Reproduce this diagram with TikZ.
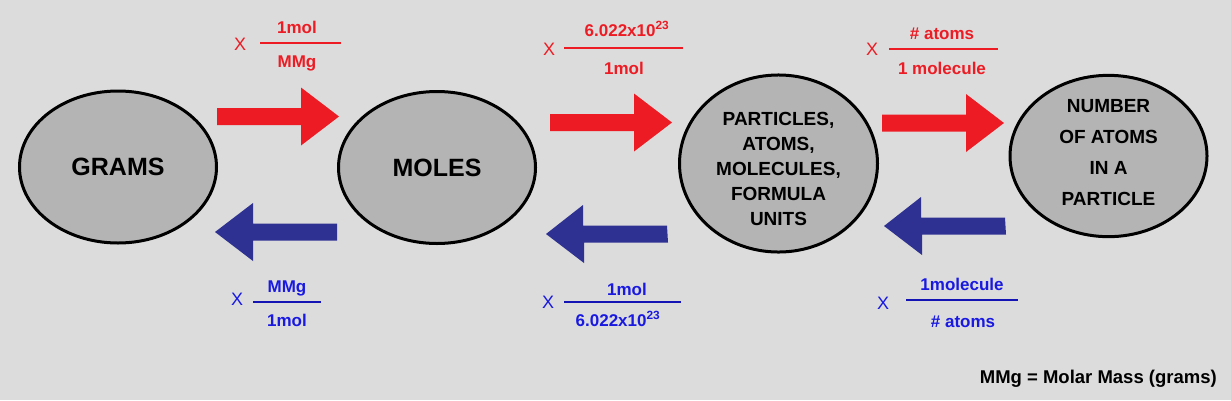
\documentclass[tikz,border=0pt]{standalone}
\usepackage{fontspec}
\setmainfont{Liberation Sans}
\usetikzlibrary{shapes.geometric}
\definecolor{bg}{RGB}{220,220,220}
\definecolor{ellgray}{RGB}{180,180,180}
\definecolor{arrowred}{RGB}{237,28,36}
\definecolor{arrowblue}{RGB}{46,49,146}
\definecolor{labelred}{RGB}{237,28,36}
\definecolor{labelblue}{RGB}{25,25,225}
\tikzset{
  ellbox/.style={ellipse, draw=black, line width=3pt, fill=ellgray, inner sep=0pt,
    minimum width=197pt, minimum height=152pt, align=center},
  bigtxt/.style={font=\fontsize{25}{30}\selectfont\bfseries},
  smalltxt/.style={font=\fontsize{19}{25}\selectfont\bfseries},
  redarrow/.style={fill=arrowred},
  bluearrow/.style={fill=arrowblue},
  lbl/.style={inner sep=0pt, font=\fontsize{17}{20}\selectfont\bfseries, text height=12pt, text depth=0pt},
  xsym/.style={inner sep=0pt, font=\fontsize{18}{20}\selectfont, text height=12.5pt, text depth=0pt},
  redlbl/.style={lbl, text=labelred},
  bluelbl/.style={lbl, text=labelblue},
  redx/.style={xsym, text=labelred},
  bluex/.style={xsym, text=labelblue},
  redbar/.style={draw=labelred, line width=2.5pt},
  bluebar/.style={draw=labelblue!80!black, line width=2.5pt},
  note/.style={inner sep=0pt, anchor=east, font=\fontsize{18.5}{22}\selectfont\bfseries, text height=13pt, text depth=0pt}
}
\begin{document}
\begin{tikzpicture}[x=1pt,y=-1pt]
\fill[bg] (0,0) rectangle (1231,400);
\useasboundingbox (0,0) rectangle (1231,400);

% ellipses
\node[ellbox, bigtxt] (grams) at (118,167) {GRAMS};
\node[ellbox, bigtxt] (moles) at (437,167.5) {MOLES};
\node[ellbox, smalltxt, minimum width=198pt] (parts) at (778.5,163.5)
  {\rule{0pt}{25pt}PARTICLES,\\ATOMS,\\MOLECULES,\\FORMULA\\UNITS};
\node[ellbox, font=\fontsize{19}{31}\selectfont\bfseries] (natoms) at (1108.5,156)
  {NUMBER\\OF ATOMS\\IN A\\PARTICLE\rule[-8pt]{0pt}{8pt}};

% red arrows (tail centre -> tip)
\coordinate (r1t) at (217,116.5); \coordinate (r1h) at (339,116.5);
\coordinate (r2t) at (550,122.5); \coordinate (r2h) at (672,122.5);
\coordinate (r3t) at (882,123);   \coordinate (r3h) at (1004,123);
\foreach \t/\h in {r1t/r1h, r2t/r2h, r3t/r3h}{
  \fill[redarrow] (\t) ++(0,-8.5) -- ++(84,0) -- ++(0,-20.5) -- (\h)
    -- ++(-38,29) -- ++(0,-20.5) -- ++(-84,0) -- cycle;
}
% blue arrows
\coordinate (b1t) at (337,232);   \coordinate (b1h) at (215,232);
\coordinate (b2t) at (667,234);   \coordinate (b2h) at (546,234);
\coordinate (b3t) at (1005,226);  \coordinate (b3h) at (884,226);
\foreach \t/\h in {b1t/b1h, b2t/b2h, b3t/b3h}{
  \fill[bluearrow] (\t) ++(0,-8.5) -- ++(-84,0) -- ++(0,-20.5) -- (\h)
    -- ++(38,29) -- ++(0,-20.5) -- ++(84,0) -- cycle;
}

% red labels
\node[redx] (rx1) at (240,44) {X};
\coordinate (rf1a) at (260,43); \coordinate (rf1b) at (341,43);
\draw[redbar] (rf1a) -- (rf1b);
\node[redlbl] (rn1) at (297,27) {1mol};
\node[redlbl] (rd1) at (297,61) {MMg};

\node[redx] (rx2) at (549,49) {X};
\coordinate (rf2a) at (564,48); \coordinate (rf2b) at (683,48);
\draw[redbar] (rf2a) -- (rf2b);
\node[redlbl] (rn2) at (627,30) {6.022x10\textsuperscript{23}};
\node[redlbl] (rd2) at (624,68) {1mol};

\node[redx] (rx3) at (872,49) {X};
\coordinate (rf3a) at (889,49); \coordinate (rf3b) at (998,49);
\draw[redbar] (rf3a) -- (rf3b);
\node[redlbl] (rn3) at (942,33) {\# atoms};
\node[redlbl] (rd3) at (942,68) {1 molecule};

% blue labels
\node[bluex] (bx1) at (237,299) {X};
\coordinate (bf1a) at (253,302); \coordinate (bf1b) at (321,302);
\draw[bluebar] (bf1a) -- (bf1b);
\node[bluelbl] (bn1) at (287,286) {MMg};
\node[bluelbl] (bd1) at (287,320) {1mol};

\node[bluex] (bx2) at (548,302) {X};
\coordinate (bf2a) at (564,302); \coordinate (bf2b) at (681,302);
\draw[bluebar] (bf2a) -- (bf2b);
\node[bluelbl] (bn2) at (627,289) {1mol};
\node[bluelbl] (bd2) at (618,320) {6.022x10\textsuperscript{23}};

\node[bluex] (bx3) at (883,303) {X};
\coordinate (bf3a) at (906,300); \coordinate (bf3b) at (1018,300);
\draw[bluebar] (bf3a) -- (bf3b);
\node[bluelbl] (bn3) at (962,284) {1molecule};
\node[bluelbl] (bd3) at (963,321) {\# atoms};

% footnote
\node[note] (mmg) at (1217,377) {MMg = Molar Mass (grams)};
\end{tikzpicture}
\end{document}
